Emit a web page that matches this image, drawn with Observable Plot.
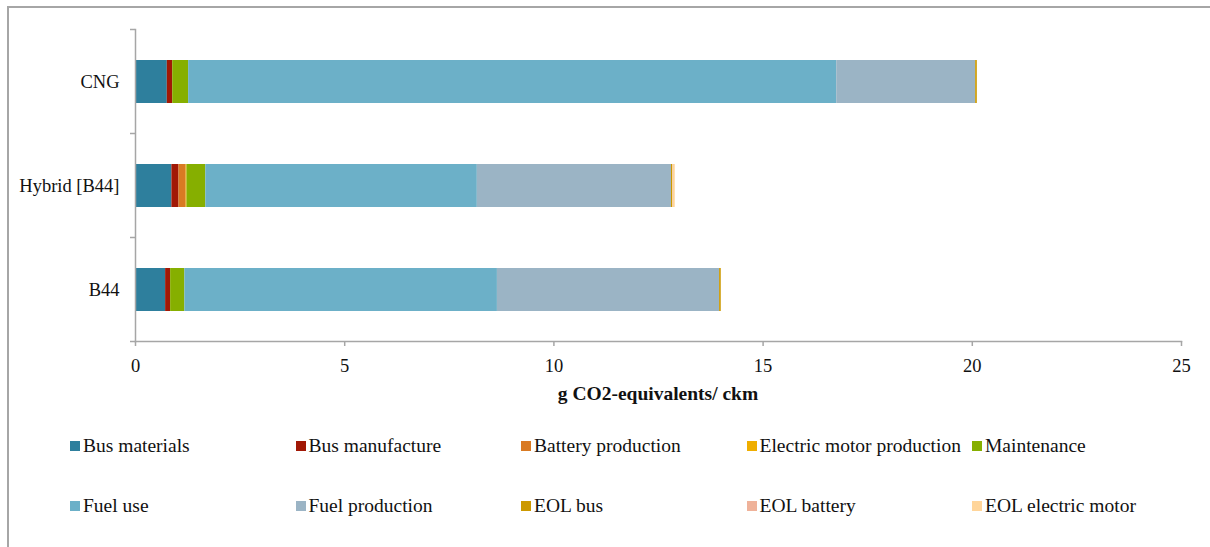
<!DOCTYPE html>
<html>
<head>
<meta charset="utf-8">
<script src="https://cdn.jsdelivr.net/npm/d3@7"></script>
<script src="https://cdn.jsdelivr.net/npm/@observablehq/plot@0.6"></script>
<style>
  body { margin: 0; background: #fff; font-family: "Liberation Serif", serif; }
  #wrap { position: relative; width: 1210px; height: 547px; overflow: hidden; }
  #frame { position: absolute; left: 7px; top: 6px; width: 1220px; height: 560px;
           border-left: 2px solid #a6a6a6; border-top: 2px solid #a6a6a6; box-sizing: border-box; }
  #chart { position: absolute; left: 0; top: 0; }
  #xtitle { position: absolute; left: 0; width: 1316px; top: 383px; text-align: center;
            font-weight: bold; font-size: 19.5px; color: #111; }
  #legend { position: absolute; left: 70px; top: 435px; width: 1130px; }
  .item { position: absolute; display: flex; align-items: center; font-size: 19.5px; color: #111; white-space: nowrap; }
  .sw { width: 10px; height: 10px; margin-right: 3px; flex: none; }
</style>
</head>
<body>
<div id="wrap">
  <div id="frame"></div>
  <div id="chart"></div>
  <div id="xtitle">g CO2-equivalents/ ckm</div>
  <div id="legend"></div>
</div>
<script>
const categories = ["CNG", "Hybrid [B44]", "B44"];
const components = ["Bus materials", "Bus manufacture", "Battery production", "Electric motor production",
  "Maintenance", "Fuel use", "Fuel production", "EOL bus", "EOL battery", "EOL electric motor"];
const colors = ["#2e7f9d", "#a11806", "#d97a23", "#efae00", "#86af00", "#6cb0c8", "#9bb4c5", "#cc9900", "#efb29a", "#ffd59a"];
const cngValues    = [0.76, 0.13, 0.00, 0.00, 0.38, 15.49, 3.32, 0.04, 0.00, 0.00];
const hybridValues = [0.87, 0.17, 0.17, 0.02, 0.45, 6.49, 4.64, 0.03, 0.01, 0.05];
const b44Values    = [0.72, 0.12, 0.00, 0.00, 0.34, 7.47, 5.31, 0.04, 0.00, 0.00];
const xTicks = [0, 5, 10, 15, 20, 25];

const seriesByCat = [cngValues, hybridValues, b44Values];
const data = [];
categories.forEach((c, i) => components.forEach((k, j) => data.push({cat: c, comp: k, value: seriesByCat[i][j]})));

const axisColor = "#a6a6a6";
const chart = Plot.plot({
  width: 1210,
  height: 410,
  marginLeft: 135,
  marginRight: 29,
  marginTop: 29,
  marginBottom: 69,
  style: {fontFamily: "Liberation Serif, serif", fontSize: "18.5px", color: "#111", background: "transparent"},
  x: {domain: [0, 25]},
  y: {domain: categories, paddingInner: 0.59, paddingOuter: 0.295},
  color: {domain: components, range: colors},
  marks: [
    Plot.barX(data, Plot.stackX({x: "value", y: "cat", fill: "comp", order: null})),
    Plot.frame({anchor: "left", stroke: axisColor, strokeWidth: 1.5}),
    Plot.frame({anchor: "bottom", stroke: axisColor, strokeWidth: 1.5}),
    Plot.axisX({ticks: xTicks, tickSize: 5, tickPadding: 12, stroke: axisColor, strokeWidth: 1.5, label: null, fontSize: 18.5}),
    Plot.axisY({tickSize: 0, tickPadding: 16, label: null, fontSize: 18.5})
  ]
});
document.getElementById("chart").appendChild(chart);

// boundary ticks on the category axis, derived from the band scale
const ys = chart.scale("y");
const svg = d3.select(chart);
const gap = (ys.step - ys.bandwidth) / 2;
const bounds = categories.map(c => ys.apply(c) - gap);
bounds.push(ys.apply(categories[categories.length - 1]) + ys.bandwidth + gap);
svg.append("g").selectAll("line").data(bounds).join("line")
  .attr("x1", 130).attr("x2", 135).attr("y1", d => d).attr("y2", d => d)
  .attr("stroke", axisColor).attr("stroke-width", 1.5);

// legend
const legend = document.getElementById("legend");
components.forEach((k, j) => {
  const row = Math.floor(j / 5), col = j % 5;
  const el = document.createElement("div");
  el.className = "item";
  el.style.left = (col * 225.5) + "px";
  el.style.top = (row * 60) + "px";
  el.innerHTML = `<span class="sw" style="background:${colors[j]}"></span><span>${k}</span>`;
  legend.appendChild(el);
});
</script>
</body>
</html>
